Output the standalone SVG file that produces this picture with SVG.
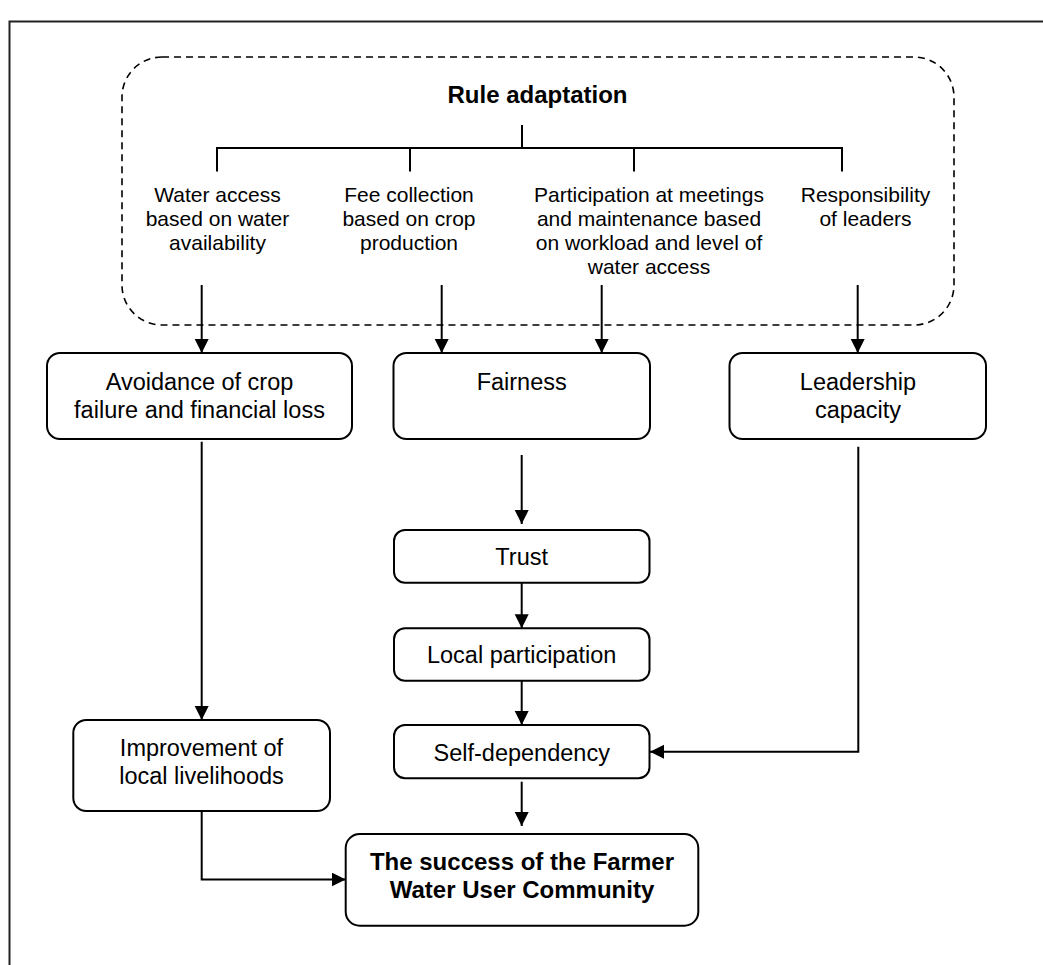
<svg xmlns="http://www.w3.org/2000/svg" width="1043" height="965" viewBox="0 0 1043 965">
  <defs>
    <marker id="arrow" markerWidth="14" markerHeight="15" refX="14" refY="7" orient="auto" markerUnits="userSpaceOnUse">
      <path d="M0,0 L14,7 L0,14 Z" fill="#000"/>
    </marker>
    <style>
      .frame { fill: none; stroke: #222; stroke-width: 2; }
      .group { fill: none; stroke: #000; stroke-width: 1.6; stroke-dasharray: 7 5; }
      .box { fill: #fff; stroke: #000; stroke-width: 2; }
      .line { fill: none; stroke: #000; stroke-width: 2; }
      .arr { fill: none; stroke: #000; stroke-width: 2; marker-end: url(#arrow); }
      .rule { font-family: "Liberation Sans", Arial, sans-serif; font-size: 21px; fill: #000; text-anchor: middle; }
      .lbl { font-family: "Liberation Sans", Arial, sans-serif; font-size: 23.5px; fill: #000; text-anchor: middle; }
      .bold { font-family: "Liberation Sans", Arial, sans-serif; font-size: 24px; font-weight: bold; fill: #000; text-anchor: middle; }
    </style>
  </defs>

  <!-- page frame -->
  <path class="frame" d="M9.5,965 V21.5 H1043"/>

  <!-- rule adaptation group -->
  <g id="rule-adaptation">
    <rect class="group" x="122" y="57" width="832" height="268" rx="40" ry="40"/>
    <text class="bold" x="537.5" y="103">Rule adaptation</text>
    <path class="line" d="M522,125 V148 M217,171.5 V148 H842 V171.5 M410,148 V171.5 M634,148 V171.5"/>
    <g id="rule-water">
      <text class="rule" x="217.5" y="201.5">Water access</text>
      <text class="rule" x="217.5" y="225.5">based on water</text>
      <text class="rule" x="217.5" y="249.5">availability</text>
    </g>
    <g id="rule-fee">
      <text class="rule" x="409" y="201.5">Fee collection</text>
      <text class="rule" x="409" y="225.5">based on crop</text>
      <text class="rule" x="409" y="249.5">production</text>
    </g>
    <g id="rule-participation">
      <text class="rule" x="649" y="201.5">Participation at meetings</text>
      <text class="rule" x="649" y="225.5">and maintenance based</text>
      <text class="rule" x="649" y="249.5">on workload and level of</text>
      <text class="rule" x="649" y="273.5">water access</text>
    </g>
    <g id="rule-leaders">
      <text class="rule" x="865.5" y="201.5">Responsibility</text>
      <text class="rule" x="865.5" y="225.5">of leaders</text>
    </g>
  </g>

  <g id="avoidance">
    <rect class="box" x="47" y="353" width="305" height="86" rx="13" ry="13"/>
    <text class="lbl" x="199.5" y="390">Avoidance of crop</text>
    <text class="lbl" x="199.5" y="417.5">failure and financial loss</text>
  </g>

  <g id="fairness">
    <rect class="box" x="393.5" y="353" width="256.5" height="86" rx="13" ry="13"/>
    <text class="lbl" x="521.7" y="390">Fairness</text>
  </g>

  <g id="leadership">
    <rect class="box" x="729.5" y="353" width="256.5" height="86" rx="13" ry="13"/>
    <text class="lbl" x="858" y="390">Leadership</text>
    <text class="lbl" x="858" y="417.5">capacity</text>
  </g>

  <g id="trust">
    <rect class="box" x="394" y="530" width="255.5" height="52.7" rx="11" ry="11"/>
    <text class="lbl" x="521.7" y="564.5">Trust</text>
  </g>

  <g id="local-participation">
    <rect class="box" x="394" y="628.3" width="255.5" height="52.4" rx="11" ry="11"/>
    <text class="lbl" x="521.7" y="663">Local participation</text>
  </g>

  <g id="self-dependency">
    <rect class="box" x="394" y="725" width="255.5" height="53.3" rx="11" ry="11"/>
    <text class="lbl" x="521.7" y="760.7">Self-dependency</text>
  </g>

  <g id="livelihoods">
    <rect class="box" x="73.3" y="720" width="256.7" height="91" rx="13" ry="13"/>
    <text class="lbl" x="201.5" y="756">Improvement of</text>
    <text class="lbl" x="201.5" y="783.5">local livelihoods</text>
  </g>

  <g id="success">
    <rect class="box" x="345.7" y="834" width="352.6" height="91.7" rx="14" ry="14"/>
    <text class="bold" x="522" y="870">The success of the Farmer</text>
    <text class="bold" x="522" y="898.3">Water User Community</text>
  </g>

  <!-- connectors -->
  <g id="connectors">
    <path class="arr" d="M201.7,285 V353"/>
    <path class="arr" d="M441.7,285 V353"/>
    <path class="arr" d="M601.7,285 V353"/>
    <path class="arr" d="M857.7,285 V353"/>
    <path class="arr" d="M201.7,441.7 V720"/>
    <path class="arr" d="M521.7,455 V524"/>
    <path class="arr" d="M521.7,582.7 V628.3"/>
    <path class="arr" d="M521.7,680.7 V725"/>
    <path class="arr" d="M858.3,446.7 V751.7 H650"/>
    <path class="arr" d="M521.7,781.7 V826"/>
    <path class="arr" d="M201.7,811 V879.5 H345.7"/>
  </g>
</svg>
